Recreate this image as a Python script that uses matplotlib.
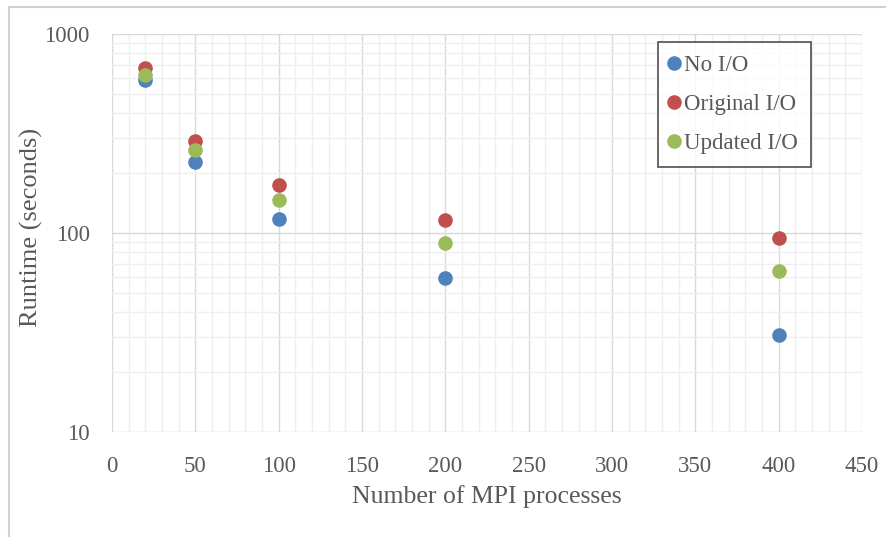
import matplotlib.pyplot as plt
from matplotlib.ticker import MultipleLocator, LogLocator, NullFormatter, FixedLocator
from matplotlib.patches import Rectangle

# runtime per configuration, seconds
procs = [20, 50, 100, 200, 400]
no_io = [590, 228, 117, 59.5, 30.7]
original_io = [675, 290, 174, 116, 94.5]
updated_io = [622, 261, 147, 89, 64.5]

series = [("No I/O", no_io, "#4F81BD"),
          ("Original I/O", original_io, "#C0504D"),
          ("Updated I/O", updated_io, "#9BBB59")]

plt.rcParams['font.family'] = ['Liberation Serif', 'DejaVu Serif']
txt = "#595959"

fig = plt.figure(figsize=(8.86, 5.37), dpi=100)
ax = fig.add_axes([112/886, 1-432/537, 750/886, 398/537])

# light frame around the whole chart area
fig.patches.append(Rectangle((9/886, -0.1), 1.2, 1 - 7/537 + 0.1,
                             transform=fig.transFigure, fill=False,
                             edgecolor="#d0d0d0", linewidth=1.5))

for name, vals, col in series:
    ax.plot(procs, vals, "o", color=col, markersize=10.5, label=name,
            markeredgewidth=0, zorder=3)

ax.set_yscale("log")
ax.set_xlim(0, 450)
ax.set_ylim(10, 1000)
ax.xaxis.set_major_locator(MultipleLocator(50))
ax.xaxis.set_minor_locator(MultipleLocator(10))
ax.yaxis.set_major_locator(FixedLocator([10, 100, 1000]))
ax.yaxis.set_minor_locator(LogLocator(base=10, subs=range(2, 10)))
ax.yaxis.set_minor_formatter(NullFormatter())
ax.set_yticklabels(["10", "100", "1000"])

ax.grid(which="major", color="#d9d9d9", linewidth=1.0, zorder=0)
ax.grid(which="minor", color="#efefef", linewidth=1.0, zorder=0)
ax.set_axisbelow(True)
for s in ax.spines.values():
    s.set_visible(False)
ax.tick_params(which="both", length=0, labelsize=16.5, colors=txt)
ax.tick_params(axis="x", pad=17)
ax.tick_params(axis="y", pad=16)

ax.set_xlabel("Number of MPI processes", fontsize=18.5, color=txt, labelpad=6)
ax.set_ylabel("Runtime (seconds)", fontsize=19, color=txt)
ax.yaxis.set_label_coords(-0.092, 0.513)

leg = ax.legend(loc="upper left", bbox_to_anchor=(546/750, 1 - 8/398),
                fontsize=16.5, frameon=True, fancybox=False, handletextpad=0.3,
                labelspacing=0.8, borderpad=0.55, handlelength=0.3,
                borderaxespad=0)
leg.get_frame().set_edgecolor("#333333")
leg.get_frame().set_linewidth(1.3)
for t in leg.get_texts():
    t.set_color(txt)

fig.savefig("out.png", dpi=100)
